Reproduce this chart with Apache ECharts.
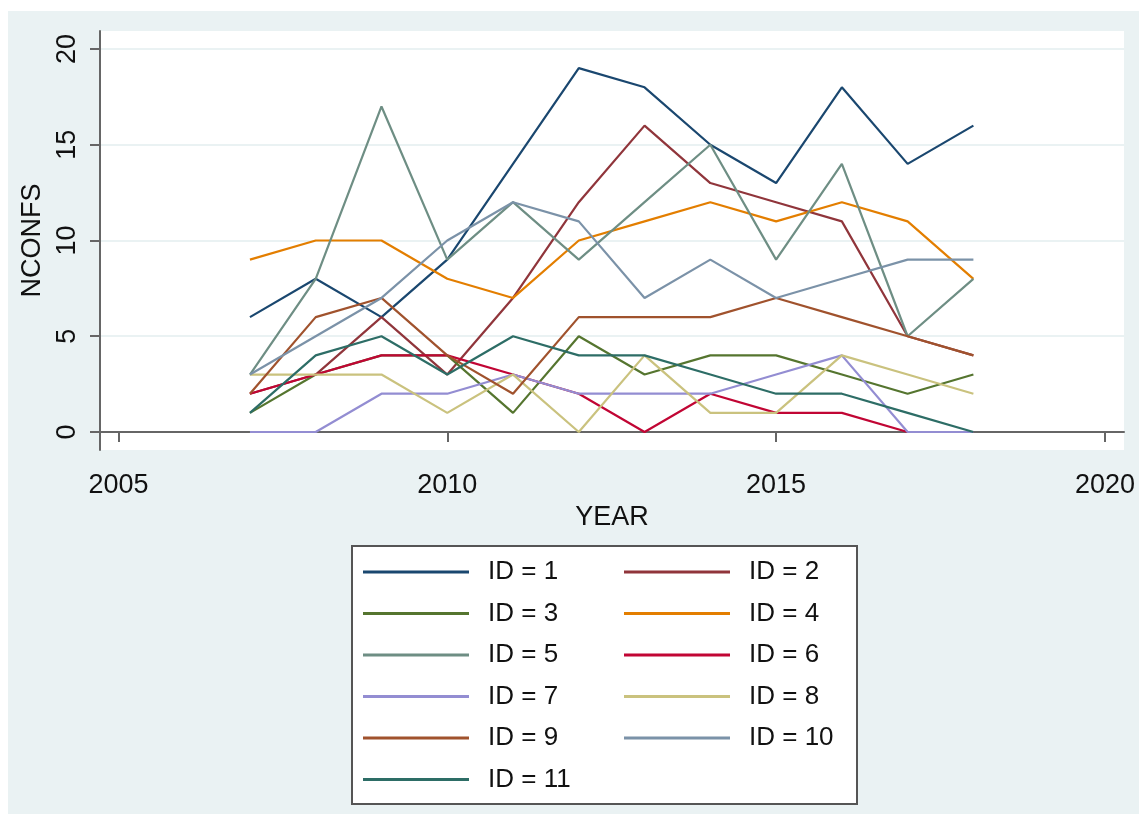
<!DOCTYPE html>
<html>
<head>
<meta charset="utf-8">
<script src="https://cdn.jsdelivr.net/npm/echarts@6/dist/echarts.min.js"></script>
<style>
  html, body { margin: 0; padding: 0; background: #fff; }
  #chart { position: absolute; left: 8px; top: 11px; width: 1131px; height: 803px; }
</style>
</head>
<body>
<div id="chart"></div>
<script>
// years on the x axis
const years = [2007, 2008, 2009, 2010, 2011, 2012, 2013, 2014, 2015, 2016, 2017, 2018];

// NCONFS per ID
const id1  = [6, 8, 6, 9, 14, 19, 18, 15, 13, 18, 14, 16];
const id2  = [2, 3, 6, 3, 7, 12, 16, 13, 12, 11, 5, 4];
const id3  = [1, 3, 4, 4, 1, 5, 3, 4, 4, 3, 2, 3];
const id4  = [9, 10, 10, 8, 7, 10, 11, 12, 11, 12, 11, 8];
const id5  = [3, 8, 17, 9, 12, 9, 12, 15, 9, 14, 5, 8];
const id6  = [2, 3, 4, 4, 3, 2, 0, 2, 1, 1, 0, 0];
const id7  = [0, 0, 2, 2, 3, 2, 2, 2, 3, 4, 0, 0];
const id8  = [3, 3, 3, 1, 3, 0, 4, 1, 1, 4, 3, 2];
const id9  = [2, 6, 7, 4, 2, 6, 6, 6, 7, 6, 5, 4];
const id10 = [3, 5, 7, 10, 12, 11, 7, 9, 7, 8, 9, 9];
const id11 = [1, 4, 5, 3, 5, 4, 4, 3, 2, 2, 1, 0];

const xTicks = [2005, 2010, 2015, 2020];
const yTicks = [0, 5, 10, 15, 20];

const seriesNames = ['ID = 1', 'ID = 2', 'ID = 3', 'ID = 4', 'ID = 5', 'ID = 6',
                     'ID = 7', 'ID = 8', 'ID = 9', 'ID = 10', 'ID = 11'];
const seriesValues = [id1, id2, id3, id4, id5, id6, id7, id8, id9, id10, id11];
const colors = ['#1a476f', '#90353b', '#55752f', '#e37e00', '#6e8e84', '#c10534',
                '#938dd2', '#cac27e', '#a0522d', '#7b92a8', '#2d6d66'];

const font = 'Liberation Sans, Arial, sans-serif';
const axisColor = '#666';

var chartDom = document.getElementById('chart');
var myChart = echarts.init(chartDom);

const legendCommon = {
    orient: 'vertical',
    top: 546,
    padding: 0,
    icon: 'rect',
    itemWidth: 106,
    itemHeight: 3,
    itemGap: 11.5,
    textStyle: {
        fontFamily: font,
        fontSize: 26,
        color: '#111',
        lineHeight: 30,
        padding: [0, 0, 0, 14]
    }
};

var option = {
    animation: false,
    backgroundColor: '#eaf2f3',
    color: colors,
    grid: {
        left: 92,
        top: 20,
        right: 15,
        bottom: 364,
        outerBoundsMode: 'none',
        show: true,
        backgroundColor: '#fff',
        borderWidth: 0
    },
    graphic: [
        {
            type: 'rect',
            left: 343,
            top: 534,
            shape: { width: 505, height: 258 },
            style: { fill: '#fff', stroke: '#555', lineWidth: 2 },
            z: -1
        }
    ],
    legend: [
        Object.assign({ left: 355, data: ['ID = 1', 'ID = 3', 'ID = 5', 'ID = 7', 'ID = 9', 'ID = 11'] }, legendCommon),
        Object.assign({ left: 616, data: ['ID = 2', 'ID = 4', 'ID = 6', 'ID = 8', 'ID = 10'] }, legendCommon)
    ],
    xAxis: {
        type: 'value',
        min: 2004.72,
        max: 2020.29,
        name: 'YEAR',
        nameLocation: 'middle',
        nameGap: 53,
        nameTextStyle: { fontFamily: font, fontSize: 27, color: '#111' },
        axisLine: { lineStyle: { color: axisColor, width: 2 } },
        axisTick: { show: true, length: 10, customValues: xTicks, lineStyle: { color: axisColor, width: 2 } },
        axisLabel: {
            customValues: xTicks,
            margin: 22,
            fontFamily: font,
            fontSize: 27,
            color: '#111',
            formatter: function (v) { return String(v); }
        },
        splitLine: { show: false }
    },
    yAxis: {
        type: 'value',
        min: -0.94,
        max: 20.94,
        name: 'NCONFS',
        nameLocation: 'middle',
        nameRotate: 90,
        nameGap: 52,
        nameTextStyle: { fontFamily: font, fontSize: 27, color: '#111' },
        axisLine: { show: true, lineStyle: { color: axisColor, width: 2 } },
        axisTick: { show: true, length: 10, customValues: yTicks, lineStyle: { color: axisColor, width: 2 } },
        axisLabel: { customValues: yTicks, rotate: 90, margin: 19, fontFamily: font, fontSize: 27, color: '#111' },
        splitLine: { show: true, lineStyle: { color: '#eaf2f3', width: 2 } }
    },
    series: seriesNames.map(function (name, i) {
        return {
            name: name,
            type: 'line',
            symbol: 'none',
            data: years.map(function (y, j) { return [y, seriesValues[i][j]]; }),
            lineStyle: { width: 2.2 }
        };
    })
};

option && myChart.setOption(option);
</script>
</body>
</html>
